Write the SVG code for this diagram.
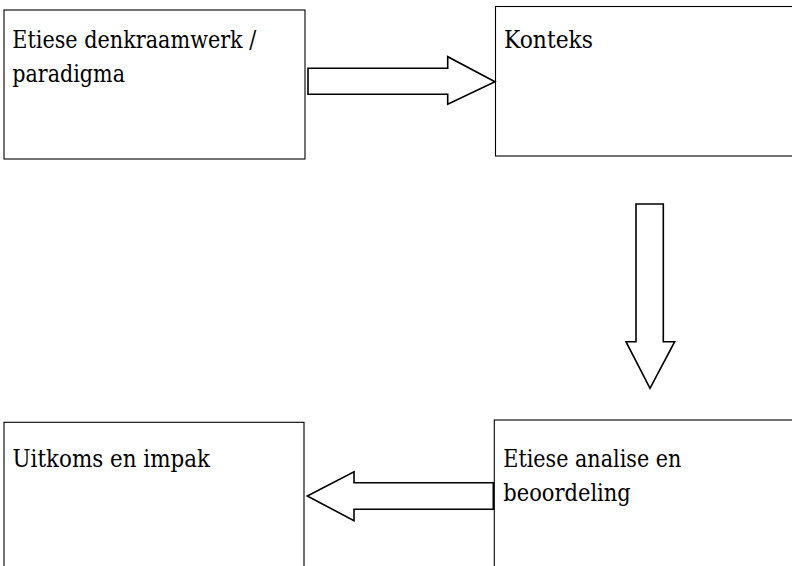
<svg xmlns="http://www.w3.org/2000/svg" width="792" height="566" viewBox="0 0 792 566">
<style>
.box{fill:#fff;stroke:#000;stroke-width:1.1}
.arr{fill:#fff;stroke:#000;stroke-width:1.6;stroke-linejoin:miter}
.t{font-family:'DejaVu Serif',serif;font-size:24px;fill:#000}
</style>
<rect width="792" height="566" fill="#fff"/>
<g id="node-denkraamwerk">
<rect class="box" x="4" y="10" width="301" height="149"/>
<text class="t" x="12.3" y="48.3" textLength="244" lengthAdjust="spacingAndGlyphs">Etiese denkraamwerk /</text>
<text class="t" x="12.3" y="81.7" textLength="112.7" lengthAdjust="spacingAndGlyphs">paradigma</text>
</g>
<g id="node-konteks">
<rect class="box" x="495.5" y="6.5" width="310" height="149.5"/>
<text class="t" x="504" y="48" textLength="89" lengthAdjust="spacingAndGlyphs">Konteks</text>
</g>
<g id="node-uitkoms">
<rect class="box" x="4" y="422.3" width="300" height="160"/>
<text class="t" x="12.5" y="466.7" textLength="197.5" lengthAdjust="spacingAndGlyphs">Uitkoms en impak</text>
</g>
<g id="node-analise">
<rect class="box" x="494.3" y="420" width="310" height="160"/>
<text class="t" x="503.3" y="466.7" textLength="178" lengthAdjust="spacingAndGlyphs">Etiese analise en</text>
<text class="t" x="503.3" y="500.5" textLength="127.5" lengthAdjust="spacingAndGlyphs">beoordeling</text>
</g>
<g id="connectors">
<polygon class="arr" points="308,68.3 447.7,68.3 447.7,56.7 495,81.7 447.7,104.3 447.7,94.3 308,94.3"/>
<polygon class="arr" points="636,204 663.3,204 663.3,341.7 674.7,341.7 650,388.3 626,341.7 636,341.7"/>
<polygon class="arr" points="493.3,482.7 354,482.7 354,471.7 307.3,496 354,520.7 354,509.3 493.3,509.3"/>
</g>
</svg>
